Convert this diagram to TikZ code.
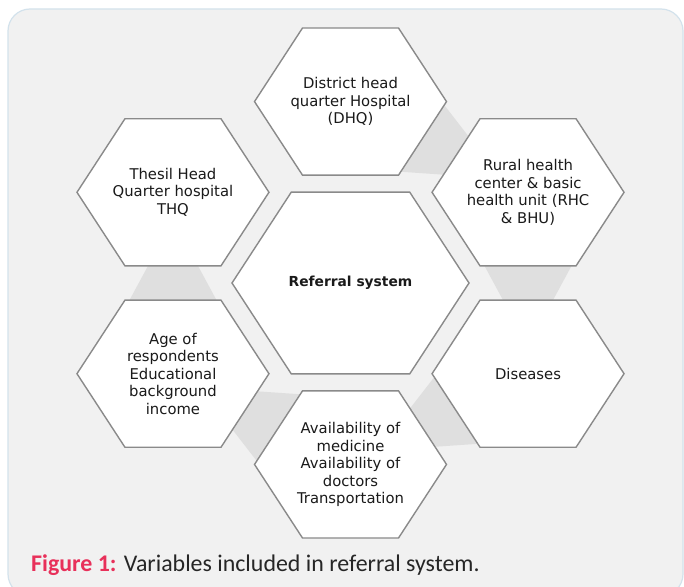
\documentclass[tikz,border=0pt]{standalone}
\usepackage{fontspec}
\setmainfont{DejaVu Sans}
\newfontfamily\captionfont{Carlito}
\definecolor{panelbg}{HTML}{F1F1F1}
\definecolor{panelborder}{HTML}{D3E2EC}
\definecolor{bandgray}{HTML}{DFDFDF}
\definecolor{hexline}{HTML}{8A8A8A}
\definecolor{ink}{HTML}{1A1A1A}
\definecolor{figred}{HTML}{E8305A}
\definecolor{captionink}{HTML}{262626}
\begin{document}
\begin{tikzpicture}[x=1pt,y=1pt,
  hexcell/.style={draw=hexline, fill=white, line width=1.4pt, line join=miter},
  cellnote/.style={align=center, inner sep=0pt, text=ink,
    font=\fontsize{14.8}{17.5}\selectfont},
  hubnote/.style={align=center, inner sep=0pt, text=ink,
    font=\bfseries\fontsize{13.8}{16}\selectfont},
]
\useasboundingbox (0,0) rectangle (684,-586);
\fill[white] (0,0) rectangle (684,-586);
% panel behind the figure
\draw[draw=panelborder, fill=panelbg, line width=1.2pt, rounded corners=22pt]
  (8,-9) rectangle (683,-596);

\begin{scope}[shift={(350.5,-283)}, yscale=0.885]
  % cell centres on the ring around the hub
  \coordinate (p-hub) at (0,0);
  \coordinate (p-dhq) at (90:205);
  \coordinate (p-rhc) at (30:205);
  \coordinate (p-dis) at (-30:205);
  \coordinate (p-avl) at (-90:205);
  \coordinate (p-age) at (-150:205);
  \coordinate (p-thq) at (150:205);

  % tapered bands leading clockwise from one cell to the next
  \foreach \a in {90,30,-30,-90,-150} {
    \begin{scope}[shift={(\a-30:177.5)}, rotate=\a-120]
      \fill[bandgray] (-30,48.6) -- (30,19.9) -- (30,-19.9) -- (-30,-48.6) -- cycle;
    \end{scope}
  }

  % outer cells
  \foreach \p in {dhq,rhc,dis,avl,age,thq}
    \draw[hexcell] (p-\p) ++(0:96) -- ++(120:96) -- ++(180:96) -- ++(240:96)
      -- ++(300:96) -- ++(0:96) -- cycle;
  % central cell
  \draw[hexcell] (p-hub) ++(0:118.5) -- ++(120:118.5) -- ++(180:118.5)
    -- ++(240:118.5) -- ++(300:118.5) -- ++(0:118.5) -- cycle;

  % cell texts
  \node[hubnote] (hub) at (p-hub) {Referral system};
  \node[cellnote] (dhq) at (p-dhq) {District head\\quarter Hospital\\(DHQ)};
  \node[cellnote] (rhc) at (p-rhc) {Rural health\\center \& basic\\health unit (RHC\\\& BHU)};
  \node[cellnote] (dis) at (p-dis) {Diseases};
  \node[cellnote] (avl) at (p-avl) {Availability of\\medicine\\Availability of\\doctors\\Transportation};
  \node[cellnote] (age) at (p-age) {Age of\\respondents\\Educational\\background\\income};
  \node[cellnote] (thq) at (p-thq) {Thesil Head\\Quarter hospital\\THQ};
\end{scope}

% caption
\node[anchor=base west, inner sep=0pt, font=\captionfont\fontsize{23.9}{28}\selectfont]
  (caption) at (31,-571)
  {\textcolor{figred}{\bfseries Figure 1:} \textcolor{captionink}{Variables included in referral system.}};
\end{tikzpicture}
\end{document}
